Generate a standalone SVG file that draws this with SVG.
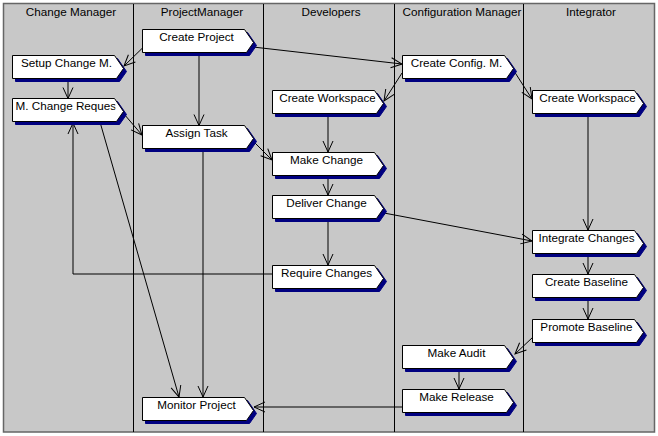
<svg xmlns="http://www.w3.org/2000/svg" width="658" height="436" viewBox="0 0 658 436">
<style>
.lane-title{font-family:"Liberation Sans",Arial,sans-serif;font-size:11.7px;fill:#000;text-anchor:middle}
.lbl{font-family:"Liberation Sans",Arial,sans-serif;font-size:11.7px;fill:#000;text-anchor:middle}
.shape{fill:#fff;stroke:#000;stroke-width:1}
.shadow{fill:#000080;stroke:#000080;stroke-width:1}
.div{stroke:#000;stroke-width:1}
.conn path{fill:none;stroke:#000;stroke-width:1}
</style>
<defs>
<path id="act" d="M0,0 H102 L111,13 L104,23 H0 Z"/>
<clipPath id="txtclip"><rect x="1" y="-2" width="102" height="26"/></clipPath>
<marker id="arr" markerUnits="userSpaceOnUse" markerWidth="14" markerHeight="14" viewBox="0 0 14 14" refX="12" refY="7" orient="auto">
<path d="M1,2 L12,7 L1,12" fill="none" stroke="#000" stroke-width="1"/>
</marker>
<clipPath id="c1"><rect x="4" y="0" width="129" height="30"/></clipPath>
<clipPath id="c2"><rect x="134" y="0" width="129" height="30"/></clipPath>
<clipPath id="c3"><rect x="264" y="0" width="130" height="30"/></clipPath>
<clipPath id="c4"><rect x="395" y="0" width="128" height="30"/></clipPath>
<clipPath id="c5"><rect x="524" y="0" width="130" height="30"/></clipPath>
</defs>
<rect x="0" y="0" width="658" height="436" fill="#fff"/>
<g id="lanes">
<rect x="3.5" y="3.5" width="651" height="428.5" fill="#c8c8c8" stroke="#666" stroke-width="1.5"/>
<line class="div" x1="133.5" y1="4" x2="133.5" y2="432"/>
<line class="div" x1="263.5" y1="4" x2="263.5" y2="432"/>
<line class="div" x1="394.5" y1="4" x2="394.5" y2="432"/>
<line class="div" x1="523.5" y1="4" x2="523.5" y2="432"/>
<text class="lane-title" x="71" y="16" clip-path="url(#c1)">Change Manager</text>
<text class="lane-title" x="202" y="16" clip-path="url(#c2)">ProjectManager</text>
<text class="lane-title" x="331" y="16" clip-path="url(#c3)">Developers</text>
<text class="lane-title" x="462" y="16" clip-path="url(#c4)">Configuration Manager</text>
<text class="lane-title" x="591" y="16" clip-path="url(#c5)">Integrator</text>
</g>
<g id="connectors" class="conn">
<path d="M142.5,48 L124,66" marker-end="url(#arr)"/>
<path d="M199,53 L199,125.5" marker-end="url(#arr)"/>
<path d="M253,47 L402,64" marker-end="url(#arr)"/>
<path d="M68,79 L68,98.5" marker-end="url(#arr)"/>
<path d="M124,114 L142,135" marker-end="url(#arr)"/>
<path d="M100,122 L179,397" marker-end="url(#arr)"/>
<path d="M253,141 L272,160" marker-end="url(#arr)"/>
<path d="M203,149 L203,397" marker-end="url(#arr)"/>
<path d="M402,73 L384,101" marker-end="url(#arr)"/>
<path d="M514,71 L532,99" marker-end="url(#arr)"/>
<path d="M328,114 L328,152" marker-end="url(#arr)"/>
<path d="M328,176 L328,195" marker-end="url(#arr)"/>
<path d="M328,219 L328,265" marker-end="url(#arr)"/>
<path d="M384,213 L532,241" marker-end="url(#arr)"/>
<path d="M588,114 L588,230" marker-end="url(#arr)"/>
<path d="M588,254 L588,274" marker-end="url(#arr)"/>
<path d="M588,298 L588,319" marker-end="url(#arr)"/>
<path d="M533,337 L515,354" marker-end="url(#arr)"/>
<path d="M459,369 L459,389" marker-end="url(#arr)"/>
<path d="M402,407 L254,407" marker-end="url(#arr)"/>
<path d="M272,274 L73,274 L73,123" marker-end="url(#arr)"/>
</g>
<g id="n-create-project" transform="translate(142.5,29.5)"><use href="#act" class="shadow" x="3" y="3"/><use href="#act" class="shape"/><text class="lbl" x="54" y="11" clip-path="url(#txtclip)">Create Project</text></g>
<g id="n-setup-change" transform="translate(12.5,55.5)"><use href="#act" class="shadow" x="3" y="3"/><use href="#act" class="shape"/><text class="lbl" x="54" y="11" clip-path="url(#txtclip)">Setup Change M.</text></g>
<g id="n-m-change-request" transform="translate(12.5,98.5)"><use href="#act" class="shadow" x="3" y="3"/><use href="#act" class="shape"/><text class="lbl" x="55" y="11" clip-path="url(#txtclip)">M. Change Request</text></g>
<g id="n-assign-task" transform="translate(142.5,125.5)"><use href="#act" class="shadow" x="3" y="3"/><use href="#act" class="shape"/><text class="lbl" x="54" y="11" clip-path="url(#txtclip)">Assign Task</text></g>
<g id="n-create-config" transform="translate(402.5,55.5)"><use href="#act" class="shadow" x="3" y="3"/><use href="#act" class="shape"/><text class="lbl" x="54" y="11" clip-path="url(#txtclip)">Create Config. M.</text></g>
<g id="n-create-workspace-dev" transform="translate(272.5,90.5)"><use href="#act" class="shadow" x="3" y="3"/><use href="#act" class="shape"/><text class="lbl" x="55" y="11" clip-path="url(#txtclip)">Create Workspace</text></g>
<g id="n-create-workspace-int" transform="translate(532.5,90.5)"><use href="#act" class="shadow" x="3" y="3"/><use href="#act" class="shape"/><text class="lbl" x="55" y="11" clip-path="url(#txtclip)">Create Workspace</text></g>
<g id="n-make-change" transform="translate(272.5,152.5)"><use href="#act" class="shadow" x="3" y="3"/><use href="#act" class="shape"/><text class="lbl" x="54" y="11" clip-path="url(#txtclip)">Make Change</text></g>
<g id="n-deliver-change" transform="translate(272.5,195.5)"><use href="#act" class="shadow" x="3" y="3"/><use href="#act" class="shape"/><text class="lbl" x="54" y="11" clip-path="url(#txtclip)">Deliver Change</text></g>
<g id="n-require-changes" transform="translate(272.5,265.5)"><use href="#act" class="shadow" x="3" y="3"/><use href="#act" class="shape"/><text class="lbl" x="54" y="11" clip-path="url(#txtclip)">Require Changes</text></g>
<g id="n-integrate-changes" transform="translate(532.5,230.5)"><use href="#act" class="shadow" x="3" y="3"/><use href="#act" class="shape"/><text class="lbl" x="54" y="11" clip-path="url(#txtclip)">Integrate Changes</text></g>
<g id="n-create-baseline" transform="translate(532.5,274.5)"><use href="#act" class="shadow" x="3" y="3"/><use href="#act" class="shape"/><text class="lbl" x="54" y="11" clip-path="url(#txtclip)">Create Baseline</text></g>
<g id="n-promote-baseline" transform="translate(532.5,319.5)"><use href="#act" class="shadow" x="3" y="3"/><use href="#act" class="shape"/><text class="lbl" x="54" y="11" clip-path="url(#txtclip)">Promote Baseline</text></g>
<g id="n-make-audit" transform="translate(402.5,345.5)"><use href="#act" class="shadow" x="3" y="3"/><use href="#act" class="shape"/><text class="lbl" x="54" y="11" clip-path="url(#txtclip)">Make Audit</text></g>
<g id="n-make-release" transform="translate(402.5,389.5)"><use href="#act" class="shadow" x="3" y="3"/><use href="#act" class="shape"/><text class="lbl" x="54" y="11" clip-path="url(#txtclip)">Make Release</text></g>
<g id="n-monitor-project" transform="translate(142.5,397.5)"><use href="#act" class="shadow" x="3" y="3"/><use href="#act" class="shape"/><text class="lbl" x="54" y="11" clip-path="url(#txtclip)">Monitor Project</text></g>
</svg>
